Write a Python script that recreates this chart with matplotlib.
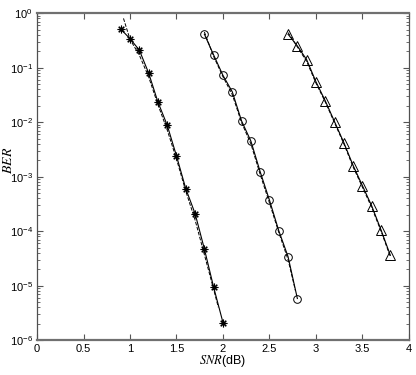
import matplotlib
matplotlib.use('Agg')
import matplotlib.pyplot as plt
from matplotlib.ticker import LogLocator, NullFormatter, MultipleLocator

plt.rcParams['font.family'] = ['Liberation Sans', 'DejaVu Sans']
plt.rcParams['mathtext.fontset'] = 'stix'

# simulated curves (markers, solid line)
snr_star = [0.9, 1.0, 1.1, 1.2, 1.3, 1.4, 1.5, 1.6, 1.7, 1.8, 1.9, 2.0]
ber_star = [0.51, 0.34, 0.21, 0.080, 0.0235, 0.0088, 0.0024, 6.0e-4, 2.1e-4, 4.7e-5, 9.3e-6, 2.1e-6]

snr_circ = [1.8, 1.9, 2.0, 2.1, 2.2, 2.3, 2.4, 2.5, 2.6, 2.7, 2.8]
ber_circ = [0.41, 0.17, 0.072, 0.036, 0.0105, 0.0045, 0.00123, 3.7e-4, 1.02e-4, 3.4e-5, 5.8e-6]

snr_tri = [2.7, 2.8, 2.9, 3.0, 3.1, 3.2, 3.3, 3.4, 3.5, 3.6, 3.7, 3.8]
ber_tri = [0.41, 0.25, 0.14, 0.055, 0.0246, 0.0102, 0.0042, 0.0016, 6.8e-4, 2.9e-4, 1.05e-4, 3.6e-5]

# reference curves (dashed)
snr_star_d = [0.93, 1.0, 1.1, 1.2, 1.3, 1.4, 1.5, 1.6, 1.7, 1.8, 1.9, 1.95]
ber_star_d = [0.8, 0.33, 0.17, 0.068, 0.021, 0.0072, 0.0021, 5.4e-4, 1.6e-4, 3.7e-5, 8.5e-6, 4e-6]

snr_circ_d = [1.8, 1.9, 2.0, 2.1, 2.2, 2.3, 2.4, 2.5, 2.6, 2.7, 2.78]
ber_circ_d = [0.45, 0.16, 0.068, 0.032, 0.0098, 0.0040, 0.0011, 3.3e-4, 9.5e-5, 3.0e-5, 8e-6]

snr_tri_d = [2.7, 2.8, 2.9, 3.0, 3.1, 3.2, 3.3, 3.4, 3.5, 3.6, 3.7, 3.8]
ber_tri_d = [0.44, 0.24, 0.13, 0.052, 0.0235, 0.0097, 0.0040, 0.0015, 6.4e-4, 2.7e-4, 1.0e-4, 3.4e-5]

fig = plt.figure(figsize=(4.16, 3.75), dpi=100)
ax = fig.add_axes([0.089, 0.093, 0.894, 0.872])

ax.plot(snr_star_d, ber_star_d, '--', color='k', lw=0.7)
ax.plot(snr_circ_d, ber_circ_d, '--', color='k', lw=0.7)
ax.plot(snr_tri_d, ber_tri_d, '--', color='k', lw=0.7)

ax.plot(snr_star, ber_star, '-', color='k', lw=0.8, marker=(8, 2, 0), ms=5.5, mew=0.8)
ax.plot(snr_circ, ber_circ, '-', color='k', lw=0.8, marker='o', ms=5.5, mfc='none', mew=0.7)
ax.plot(snr_tri, ber_tri, '-', color='k', lw=0.8, marker='^', ms=6.5, mfc='none', mew=0.7)

ax.set_yscale('log')
ax.set_xlim(0, 4)
ax.set_ylim(1e-6, 1)
ax.xaxis.set_major_locator(MultipleLocator(0.5))
ax.xaxis.set_major_formatter(plt.FuncFormatter(lambda v, p: f'{v:g}'))
ax.yaxis.set_major_locator(LogLocator(base=10, numticks=10))
ax.yaxis.set_minor_locator(LogLocator(base=10, subs=range(2, 10), numticks=10))
ax.yaxis.set_minor_formatter(NullFormatter())

ax.tick_params(which='both', direction='in', top=True, right=True, labelsize=8, color='#555555')
ax.tick_params(which='major', length=4, pad=3)
ax.tick_params(which='minor', length=2)

for side in ['top', 'bottom']:
    ax.spines[side].set_color('#707070')
    ax.spines[side].set_linewidth(1.6)
for side in ['left', 'right']:
    ax.spines[side].set_color('#505050')
    ax.spines[side].set_linewidth(0.9)

ax.set_xlabel(r'$\mathit{SNR}$(dB)', fontsize=9, labelpad=-1)
ax.set_ylabel(r'$\mathit{BER}$', fontsize=10)
ax.yaxis.set_label_coords(-0.058, 0.55)

fig.savefig('out.png', dpi=100)
